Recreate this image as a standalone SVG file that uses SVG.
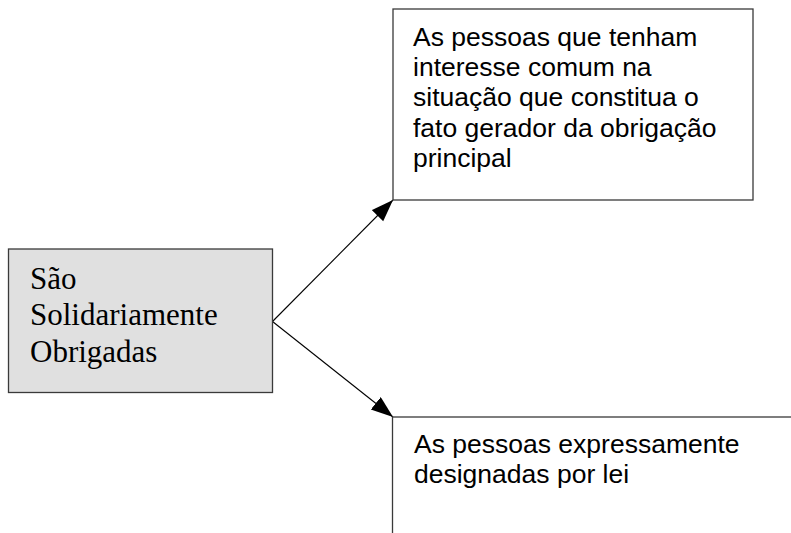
<svg xmlns="http://www.w3.org/2000/svg" width="791" height="533" viewBox="0 0 791 533">
<style>
.box{stroke:#3a3a3a;stroke-width:1.3}
.sans{font-family:"Liberation Sans",Arial,sans-serif;font-size:26.5px;fill:#000}
.serif{font-family:"Liberation Serif","Times New Roman",serif;font-size:31px;fill:#000}
.conn{stroke:#000;stroke-width:1.1;fill:none}
</style>
<defs>
<marker id="arr" markerUnits="userSpaceOnUse" markerWidth="24" markerHeight="18" refX="22" refY="8" orient="auto">
<path d="M0,0 L22,8 L0,16 z" fill="#000"/>
</marker>
</defs>
<rect width="791" height="533" fill="#fff"/>
<g id="connectors">
<line class="conn" x1="272.5" y1="321.5" x2="393" y2="200" marker-end="url(#arr)"/>
<line class="conn" x1="272.5" y1="321.5" x2="393" y2="417" marker-end="url(#arr)"/>
</g>
<g id="node-sao">
<rect class="box" x="8.5" y="249" width="264" height="143.5" fill="#e0e0e0"/>
<text class="serif" x="30" y="288.5">São</text>
<text class="serif" x="30" y="325">Solidariamente</text>
<text class="serif" x="30" y="361.5">Obrigadas</text>
</g>
<g id="node-interesse">
<rect class="box" x="393" y="9" width="360" height="191" fill="#fff"/>
<text class="sans" x="413" y="45.5">As pessoas que tenham</text>
<text class="sans" x="413" y="75.5">interesse comum na</text>
<text class="sans" x="413" y="106">situação que constitua o</text>
<text class="sans" x="413" y="136.5">fato gerador da obrigação</text>
<text class="sans" x="413" y="167">principal</text>
</g>
<g id="node-lei">
<rect class="box" x="392.5" y="417" width="500" height="200" fill="#fff"/>
<text class="sans" x="414" y="453">As pessoas expressamente</text>
<text class="sans" x="414" y="482.5">designadas por lei</text>
</g>
</svg>
